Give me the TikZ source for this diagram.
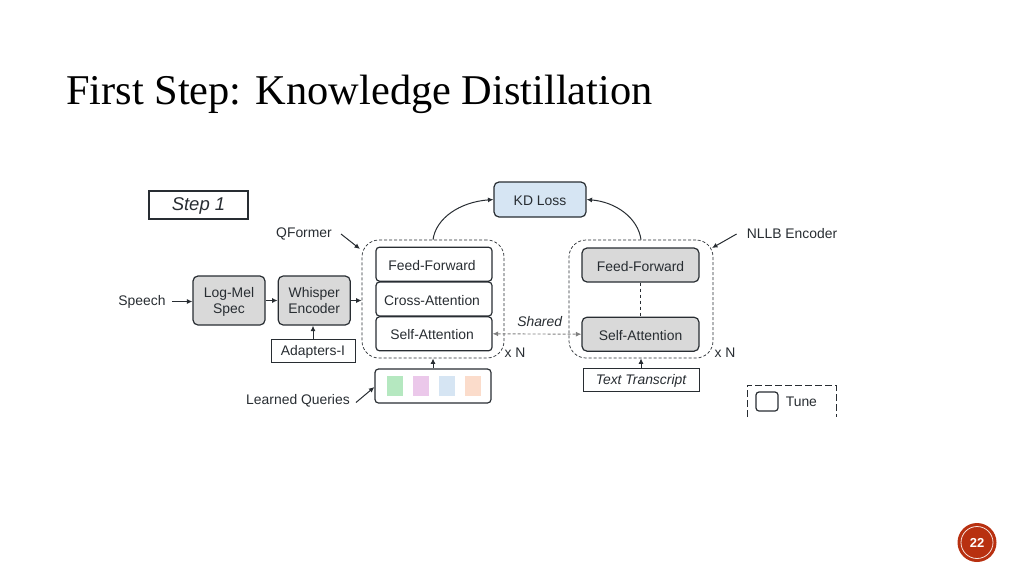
\documentclass[tikz,border=0pt]{standalone}
\usepackage{fontspec}
\setmainfont{Liberation Sans}
\newfontfamily\titlefont{Liberation Serif}
\usetikzlibrary{arrows.meta, positioning, matrix, calc}
\definecolor{myink}{RGB}{40,45,50}
\definecolor{mygray}{RGB}{217,217,217}
\definecolor{myblue}{RGB}{214,229,243}
\definecolor{myred}{RGB}{184,48,16}
\definecolor{qgreen}{RGB}{181,232,192}
\definecolor{qpink}{RGB}{235,200,234}
\definecolor{qorange}{RGB}{251,220,203}
\newcommand{\lowstrut}{\rule{0pt}{12.5pt}}
\newcommand{\tallstrut}{\rule{0pt}{14.5pt}}
\tikzset{
    lbl/.style={text=myink, font=\fontsize{13.9}{16.2}\selectfont, inner sep=0pt, align=center},
    block/.style={lbl, draw=myink, line width=1.2pt, rounded corners=3.5pt, anchor=center, execute at begin node=\lowstrut},
    gblock/.style={block, fill=mygray, rounded corners=5pt},
    plain/.style={lbl, draw=myink, line width=1pt, execute at begin node=\lowstrut},
    loopbox/.style={draw=myink, densely dashed, line width=0.7pt, rounded corners=17pt},
    conn/.style={-{Latex[length=5.5pt,width=5pt]}, myink, line width=1pt},
    query/.style={minimum width=16pt, minimum height=20pt, inner sep=0pt}
}
\begin{document}
\begin{tikzpicture}[x=1pt, y=-1pt]
    \useasboundingbox (0,0) rectangle (1024,576);

    % Title and step tag
    \node[anchor=base west, inner sep=0pt, font=\titlefont\fontsize{42.4}{46}\selectfont, text=black] (title) at (66,104) {First Step: Knowledge Distillation};
    \node[plain, minimum width=99pt, minimum height=28pt, font=\fontsize{18.5}{20}\selectfont\itshape, line width=1.2pt] (step_tag) at (198.5,205) {\raisebox{-3pt}{Step 1}};

    % Input chain
    \node[lbl] (speech) at (142,301.5) {Speech};
    \node[gblock, minimum width=72pt, minimum height=49pt] (logmel) at (229,300.5) {\tallstrut Log-Mel\strut\\Spec\strut};
    \node[gblock, minimum width=72pt, minimum height=49pt, right=12pt of logmel] (whisper) {\tallstrut Whisper\strut\\Encoder\strut};
    \node[plain, minimum width=84pt, minimum height=23pt] (adapters) at (313,350.5) {Adapters-I};

    % QFormer layers as matrix of nodes
    \matrix[matrix of nodes,
            nodes={block, minimum width=116pt, minimum height=34pt},
            row sep=-\pgflinewidth, column sep=-\pgflinewidth, inner sep=0pt] (qformer) at (434,299) {
        Feed-Forward \\
        Cross-Attention \\
        Self-Attention \\
    };
    \node[loopbox, minimum width=142pt, minimum height=118pt] (qformer_loop) at (433,299) {};
    \node[lbl] (qformer_lbl) at (304,234) {QFormer};
    \node[lbl] (qformer_n) at (515,353) {x N};

    % NLLB layers
    \node[gblock, minimum width=117pt, minimum height=34pt] (nllb_ff) at (640.5,265) {Feed-Forward};
    \node[gblock, minimum width=117pt, minimum height=34pt, below=34pt of nllb_ff] (nllb_sa) {Self-Attention};
    \node[loopbox, minimum width=144pt, minimum height=118pt] (nllb_loop) at (641,299) {};
    \node[lbl] (nllb_lbl) at (792,234) {NLLB Encoder};
    \node[lbl] (nllb_n) at (725,353) {x N};

    % Loss on top
    \node[block, fill=myblue, rounded corners=5pt, minimum width=92pt, minimum height=35pt] (kd_loss) at (540,199.5) {KD Loss};

    % Queries
    \node[block, minimum width=116pt, minimum height=34pt] (queries) at (433,386) {};
    \node[query, fill=qgreen] (q1) at (395,386) {};
    \node[query, fill=qpink, right=10pt of q1] (q2) {};
    \node[query, fill=myblue, right=9pt of q2] (q3) {};
    \node[query, fill=qorange, right=10pt of q3] (q4) {};
    \node[lbl] (queries_lbl) at (298,400.5) {Learned Queries};

    % Transcript
    \node[plain, minimum width=116pt, minimum height=23pt, font=\fontsize{13.9}{16.2}\selectfont\itshape] (transcript) at (641,379.5) {Text Transcript};

    % Connectors
    \draw[conn] (speech.east) ++(6pt,0) coordinate (speech_out) -- (speech_out -| logmel.west);
    \draw[conn] (logmel) -- (whisper);
    \draw[conn] (whisper) -- (whisper -| qformer_loop.west);
    \draw[conn] (adapters) -- (adapters |- whisper.south);
    \draw[conn] (queries) -- (queries |- qformer_loop.south);
    \draw[conn] (transcript) -- (transcript |- nllb_loop.south);
    \draw[myink, dashed, line width=1.1pt] (nllb_ff) -- (nllb_sa);
    \draw[gray, densely dashed, line width=0.9pt, {Latex[length=5.5pt,width=5pt]}-{Latex[length=5.5pt,width=5pt]}] (qformer-3-1.east) -- node[above=7pt, lbl, font=\fontsize{13.9}{16.2}\selectfont\itshape, pos=0.53] (shared) {Shared} (nllb_sa.west);

    % Curved arrows to the loss
    \draw[conn] (qformer_loop.north) .. controls (436,218) and (460,202) .. (kd_loss.west);
    \draw[conn] (nllb_loop.north) .. controls (638,218) and (616,202) .. (kd_loss.east);

    % Pointers from labels
    \draw[conn] (qformer_lbl.east) ++(9pt,0) -- (360,249);
    \draw[conn] (nllb_lbl.west) ++(-10pt,0) -- (712,248);
    \draw[conn] (queries_lbl.east) ++(6pt,-2pt) -- (queries.west |- 0,387);

    % Legend
    \coordinate (tune_nw) at (747,417);
    \coordinate (tune_ne) at (836,417);
    \draw[myink, dash pattern=on 7pt off 3pt, line width=1pt] (tune_nw) -- (747,385) -- (836,385) -- (tune_ne);
    \node[block, rounded corners=3pt, minimum width=22pt, minimum height=19pt] (tune_box) at (767,401.5) {};
    \node[lbl, right=7pt of tune_box] (tune_lbl) {Tune};

    % Page number
    \node[circle, fill=myred, minimum size=39pt, inner sep=0pt] (page_disc) at (977,542.5) {};
    \node[circle, draw=white!85!myred, line width=0.8pt, minimum size=32pt, inner sep=0pt, text=white, font=\bfseries\fontsize{13}{14}\selectfont] (page_no) at (977,542.5) {22};
\end{tikzpicture}
\end{document}
